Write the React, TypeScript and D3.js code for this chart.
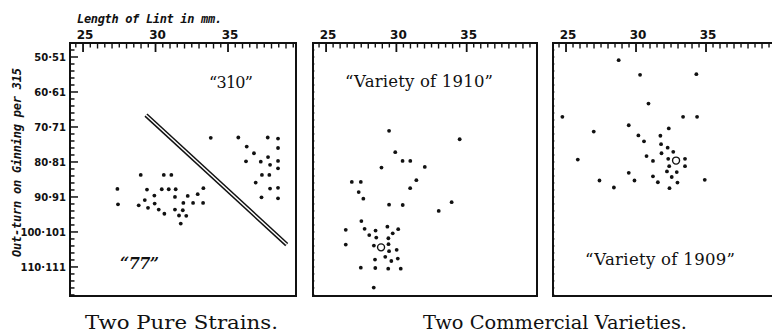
import React from 'react';
import * as d3 from 'd3';

const W = 772;
const H = 334;

// [length of lint (mm), out-turn on ginning]
const strain77 = [
  [28.98, 83.7], [30.57, 83.7], [31.09, 83.7], [27.37, 87.7], [29.41, 87.9],
  [30.43, 87.8], [30.91, 87.8], [31.39, 87.8], [33.3, 87.5], [29.92, 89.6],
  [31.34, 90.0], [32.22, 89.7], [32.91, 89.2], [29.26, 90.9], [27.41, 92.1],
  [28.84, 92.4], [29.94, 91.9], [31.92, 91.7], [32.59, 91.7], [33.28, 91.7],
  [29.48, 93.1], [30.22, 93.6], [31.34, 93.6], [31.88, 93.8], [30.61, 94.8],
  [31.62, 95.3], [32.12, 95.4], [31.74, 97.6],
];

const strain310 = [
  [33.81, 73.1], [35.71, 73.0], [37.74, 73.0], [38.45, 73.3], [36.29, 75.6],
  [38.45, 76.0], [36.79, 77.5], [36.24, 79.8], [37.26, 79.9], [37.76, 78.6],
  [37.9, 80.8], [38.45, 79.7], [38.45, 81.8], [37.34, 83.7], [37.85, 83.7],
  [36.91, 85.9], [37.9, 87.6], [38.45, 87.4], [37.31, 90.1], [38.45, 90.4],
];

const dividerLine = [[29.34, 66.6], [39.05, 103.6]];

const variety1910 = [
  [29.48, 71.1], [34.5, 73.5], [29.92, 77.2], [30.44, 79.7], [30.99, 79.7],
  [28.94, 81.6], [32.02, 81.4], [26.83, 85.7], [27.47, 85.7], [31.42, 85.2],
  [30.98, 87.5], [27.32, 88.6], [27.65, 90.5], [29.48, 92.2], [30.45, 92.3],
  [33.93, 91.5], [33.01, 94.0], [27.51, 96.9], [26.4, 99.4], [27.74, 99.1],
  [28.52, 99.6], [29.36, 98.5], [30.13, 99.2], [29.74, 100.4], [28.07, 100.9],
  [28.57, 101.6], [29.43, 101.8], [26.4, 103.6], [28.4, 103.9], [29.44, 103.5],
  [29.48, 105.5], [30.02, 105.1], [29.21, 107.1], [28.48, 107.9], [29.64, 108.3],
  [30.1, 107.6], [27.47, 110.2], [28.5, 110.3], [29.42, 110.5], [30.31, 110.5],
  [28.39, 115.9],
];
const variety1910Mean = [28.91, 104.4];

const variety1909 = [
  [28.76, 50.9], [30.29, 55.1], [34.31, 54.9], [30.89, 63.3], [24.74, 67.1],
  [33.36, 67.1], [34.36, 67.1], [26.98, 71.3], [29.48, 69.5], [32.34, 70.4],
  [30.17, 72.4], [31.74, 72.5], [30.57, 74.1], [31.79, 74.9], [32.26, 75.9],
  [32.66, 77.1], [31.82, 77.5], [30.75, 78.3], [32.3, 79.1], [33.5, 79.1],
  [31.21, 79.7], [25.84, 79.3], [32.37, 81.2], [33.5, 81.2], [29.48, 83.1],
  [32.21, 82.7], [32.91, 82.9], [31.21, 84.1], [32.55, 84.3], [27.39, 85.3],
  [29.89, 85.3], [31.56, 85.8], [32.96, 85.9], [34.91, 85.1], [28.42, 87.3],
  [32.39, 87.5],
];
const variety1909Mean = [32.86, 79.6];

const xTickLabels = [25, 30, 35];
const yTickValues = [50, 60, 70, 80, 90, 100, 110];
const yTickLabels = ['50·51', '60·61', '70·71', '80·81', '90·91', '100·101', '110·111'];

const monoFont = '"DejaVu Sans Mono", monospace';
const sansFont = '"DejaVu Sans", sans-serif';
const serifFont = '"DejaVu Serif", serif';

const y = d3.scaleLinear().domain([46, 118.3]).range([43, 296]);

const panels = [
  { key: 'p1', x0: 70, x1: 296, domain: [24.1, 39.69], yLabels: true },
  { key: 'p2', x0: 313, x1: 537, domain: [24.07, 40.0], yLabels: false },
  { key: 'p3', x0: 553, x1: 777, domain: [24.07, 40.07], yLabels: false },
];

const Dots = ({ data, x }) => (
  <g>
    {data.map((d, i) => (
      <circle key={i} cx={x(d[0])} cy={y(d[1])} r={1.9} fill="#111" />
    ))}
  </g>
);

const Panel = ({ p, children }) => {
  const x = d3.scaleLinear().domain(p.domain).range([p.x0, p.x1]);
  const top = y.range()[0];
  const bottom = y.range()[1];
  const xTicks = d3.range(24.5, 40.01, 0.5).filter(v => x(v) > p.x0 + 1 && x(v) < p.x1 - 1);
  const yTicks = d3.range(48, 118.1, 2);
  return (
    <g>
      <rect x={p.x0} y={top} width={p.x1 - p.x0} height={bottom - top} fill="none" stroke="#111" strokeWidth={2} />
      {xTicks.map(v => {
        const len = v % 5 === 0 ? 9 : Number.isInteger(v) ? 5.5 : 4.5;
        return <line key={v} x1={x(v)} x2={x(v)} y1={top} y2={top + len} stroke="#111" strokeWidth={v % 5 === 0 ? 1.8 : 1.4} />;
      })}
      {xTickLabels.map(v => (
        <text key={v} x={x(v) + 2} y={39} textAnchor="middle" fontFamily={sansFont} fontWeight="bold" fontSize={12} fill="#111">{v}</text>
      ))}
      {yTicks.map(v => {
        const major = v % 10 === 0;
        const len = p.yLabels ? (major ? 8 : 4.5) : 2;
        return <line key={v} x1={p.x0} x2={p.x0 + len} y1={y(v)} y2={y(v)} stroke="#111" strokeWidth={p.yLabels ? 1.5 : 0.8} opacity={p.yLabels ? 1 : 0.6} />;
      })}
      {p.yLabels && yTickValues.map((v, i) => (
        <text key={v} x={66} y={y(v)} dy="0.36em" textAnchor="end" fontFamily={sansFont} fontWeight="bold" fontSize={10} fill="#111">{yTickLabels[i]}</text>
      ))}
      {children(x)}
    </g>
  );
};

const App = () => {
  const divider = d3.line();
  return (
    <div style={{ position: 'fixed', left: 0, top: 0, width: W, height: H, background: '#fff' }}>
      <svg width={W} height={H} style={{ display: 'block' }}>
        <rect width={W} height={H} fill="#fff" />
        <text x={77} y={23} fontFamily={monoFont} fontStyle="italic" fontWeight="bold" fontSize={12} fill="#111" textLength={145} lengthAdjust="spacing">Length of Lint in mm.</text>
        <text transform="translate(21,162.5) rotate(-90)" textAnchor="middle" fontFamily={monoFont} fontStyle="italic" fontWeight="bold" fontSize={12} fill="#111" textLength={189} lengthAdjust="spacing">Out-turn on Ginning per 315</text>

        <Panel p={panels[0]}>
          {x => (
            <g>
              <path d={divider(dividerLine.map(d => [x(d[0]), y(d[1])]))} stroke="#111" strokeWidth={4.4} fill="none" />
              <path d={divider(dividerLine.map(d => [x(d[0]), y(d[1])]))} stroke="#fff" strokeWidth={1.4} fill="none" />
              <Dots data={strain77} x={x} />
              <Dots data={strain310} x={x} />
              <text x={231} y={88} textAnchor="middle" fontFamily={serifFont} fontSize={16} fill="#111" textLength={44} lengthAdjust="spacing">“310”</text>
              <text x={139.5} y={269} textAnchor="middle" fontFamily={serifFont} fontStyle="italic" fontWeight="bold" fontSize={16} fill="#111" textLength={39} lengthAdjust="spacing">“77”</text>
            </g>
          )}
        </Panel>

        <Panel p={panels[1]}>
          {x => (
            <g>
              <Dots data={variety1910} x={x} />
              <circle cx={x(variety1910Mean[0])} cy={y(variety1910Mean[1])} r={3.5} fill="#fff" stroke="#111" strokeWidth={1.4} />
              <text x={419} y={87} textAnchor="middle" fontFamily={serifFont} fontSize={16.5} fill="#111" textLength={148} lengthAdjust="spacing">“Variety of 1910”</text>
            </g>
          )}
        </Panel>

        <Panel p={panels[2]}>
          {x => (
            <g>
              <Dots data={variety1909} x={x} />
              <circle cx={x(variety1909Mean[0])} cy={y(variety1909Mean[1])} r={3.5} fill="#fff" stroke="#111" strokeWidth={1.4} />
              <text x={660} y={265} textAnchor="middle" fontFamily={serifFont} fontSize={16.5} fill="#111" textLength={150} lengthAdjust="spacing">“Variety of 1909”</text>
            </g>
          )}
        </Panel>

        <text x={181.5} y={328.5} textAnchor="middle" fontFamily={serifFont} fontSize={18.5} fill="#111" textLength={193} lengthAdjust="spacingAndGlyphs">Two Pure Strains.</text>
        <text x={555} y={328.5} textAnchor="middle" fontFamily={serifFont} fontSize={18.5} fill="#111" textLength={264} lengthAdjust="spacingAndGlyphs">Two Commercial Varieties.</text>
      </svg>
    </div>
  );
};

export default App;
